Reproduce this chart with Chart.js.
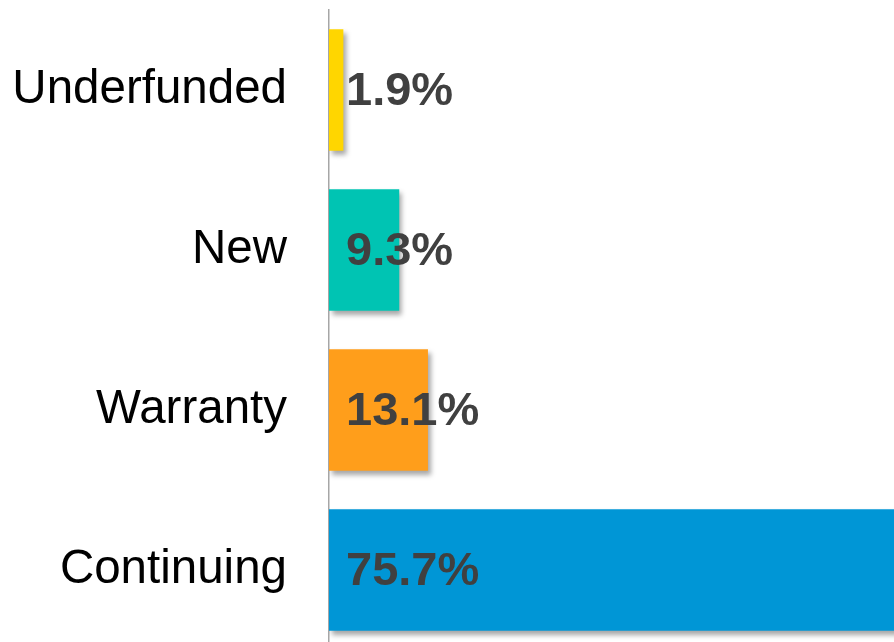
<!DOCTYPE html>
<html lang="en">
<head>
    <meta charset="UTF-8">
    <script src="https://cdn.jsdelivr.net/npm/chart.js@4/dist/chart.umd.min.js"></script>
    <title>Chart</title>
    <style>
        html, body {
            margin: 0;
            padding: 0;
            overflow: hidden;
            background: #fff;
        }
        #wrap {
            width: 894px;
            height: 650px;
        }
    </style>
</head>
<body>
    <div id="wrap"><canvas id="chart"></canvas></div>
<script>
    const categories = ['Underfunded', 'New', 'Warranty', 'Continuing'];
    const shares = [1.9, 9.3, 13.1, 75.7];
    const barColors = ['#FFD600', '#00C4B3', '#FF9E1B', '#0096D6'];

    const font = "'Liberation Sans', Arial, sans-serif";

    // drop shadow under bars + percent labels inside the bar start
    const barExtras = {
        id: 'barExtras',
        beforeDatasetsDraw(chart) {
            const ctx = chart.ctx;
            ctx.save();
            ctx.shadowColor = 'rgba(0, 0, 0, 0.35)';
            ctx.shadowBlur = 5;
            ctx.shadowOffsetX = 3;
            ctx.shadowOffsetY = 4;
        },
        afterDatasetsDraw(chart) {
            const ctx = chart.ctx;
            ctx.restore();
            ctx.save();
            ctx.font = 'bold 47px ' + font;
            ctx.fillStyle = '#404040';
            ctx.textAlign = 'left';
            ctx.textBaseline = 'middle';
            chart.getDatasetMeta(0).data.forEach((bar, i) => {
                ctx.fillText(shares[i].toFixed(1) + '%', bar.base + 17, bar.y + 2);
            });
            ctx.restore();
        }
    };

    new Chart(document.getElementById('chart'), {
        type: 'bar',
        data: {
            labels: categories,
            datasets: [{
                data: shares,
                backgroundColor: barColors,
                borderWidth: 0,
                barPercentage: 0.76,
                categoryPercentage: 1
            }]
        },
        options: {
            indexAxis: 'y',
            responsive: true,
            maintainAspectRatio: false,
            animation: false,
            layout: { padding: { top: 10, right: 0, bottom: 0, left: 0 } },
            plugins: {
                legend: { display: false },
                tooltip: { enabled: false }
            },
            scales: {
                x: {
                    display: false,
                    min: 0,
                    max: 74.8
                },
                y: {
                    afterFit(scale) {
                        scale.width = 329;
                        scale.paddingTop = 0;
                        scale.paddingBottom = 0;
                    },
                    grid: { display: false, drawTicks: false },
                    border: { display: true, color: '#A6A6A6', width: 1.5 },
                    ticks: {
                        color: '#000',
                        padding: 42,
                        font: { family: font, size: 47.5 }
                    }
                }
            }
        },
        plugins: [barExtras]
    });
</script>
</body>
</html>
